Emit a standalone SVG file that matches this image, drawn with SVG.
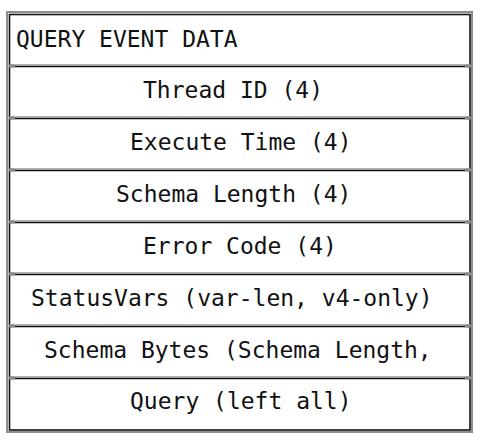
<svg xmlns="http://www.w3.org/2000/svg" width="480" height="446" viewBox="0 0 480 446">
  <style>
    .cell { fill: #ffffff; stroke: none; }
    .rule { stroke: #111111; stroke-width: 1.6; fill: none; }
    .rule-shade { stroke: #9a9a9a; stroke-width: 1.2; fill: none; }
    .tab { fill: #8a8a8a; }
    .lbl { font-family: "DejaVu Sans Mono", "Liberation Mono", monospace; font-size: 23px; fill: #111111; }
  </style>
  <rect x="0" y="0" width="480" height="446" fill="#ffffff"/>

  <!-- outer frame: grey outer line with black inner line -->
  <g id="frame">
    <rect x="7" y="12" width="465" height="420" fill="none" stroke="#8c8c8c" stroke-width="2"/>
    <rect x="9.5" y="14.5" width="460.5" height="415.5" fill="none" stroke="#111111" stroke-width="1.6"/>
  </g>

  <!-- field rows -->
  <g id="row-header">
    <text class="lbl" x="16" y="47">QUERY EVENT DATA</text>
  </g>
  <g id="row-thread-id">
    <text class="lbl" x="143" y="98">Thread ID (4)</text>
  </g>
  <g id="row-execute-time">
    <text class="lbl" x="130" y="150">Execute Time (4)</text>
  </g>
  <g id="row-schema-length">
    <text class="lbl" x="116" y="202">Schema Length (4)</text>
  </g>
  <g id="row-error-code">
    <text class="lbl" x="143" y="254">Error Code (4)</text>
  </g>
  <g id="row-status-vars">
    <text class="lbl" x="31" y="306">StatusVars (var-len, v4-only)</text>
  </g>
  <g id="row-schema-bytes">
    <text class="lbl" x="44" y="358">Schema Bytes (Schema Length,</text>
  </g>
  <g id="row-query">
    <text class="lbl" x="130" y="409">Query (left all)</text>
  </g>

  <!-- row separators -->
  <g id="separators">
    <path class="rule-shade" d="M10 64.8H470M10 116.8H470M10 168.8H470M10 220.8H470M10 272.8H470M10 324.8H470M10 376.8H470"/>
    <path class="rule" d="M10 66.5H470M10 118.5H470M10 170.5H470M10 222.5H470M10 274.5H470M10 326.5H470M10 378.5H470"/>
    <g class="tab">
      <rect x="9" y="64.5" width="6" height="3"/><rect x="465" y="64.5" width="6" height="3"/>
      <rect x="9" y="116.5" width="6" height="3"/><rect x="465" y="116.5" width="6" height="3"/>
      <rect x="9" y="168.5" width="6" height="3"/><rect x="465" y="168.5" width="6" height="3"/>
      <rect x="9" y="220.5" width="6" height="3"/><rect x="465" y="220.5" width="6" height="3"/>
      <rect x="9" y="272.5" width="6" height="3"/><rect x="465" y="272.5" width="6" height="3"/>
      <rect x="9" y="324.5" width="6" height="3"/><rect x="465" y="324.5" width="6" height="3"/>
      <rect x="9" y="376.5" width="6" height="3"/><rect x="465" y="376.5" width="6" height="3"/>
    </g>
  </g>
</svg>
